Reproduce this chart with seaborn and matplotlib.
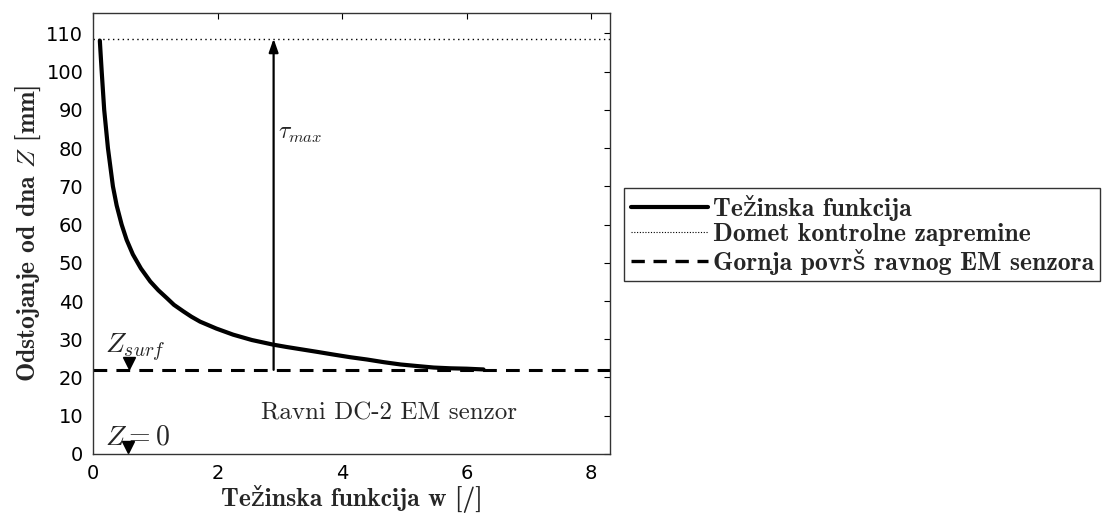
import matplotlib
matplotlib.use("Agg")
import matplotlib.pyplot as plt
import seaborn as sns
import pandas as pd
from matplotlib.lines import Line2D

# ---- data ----
w_values = [0.11, 0.125, 0.14, 0.16, 0.18, 0.21, 0.24, 0.28, 0.32, 0.38, 0.46,
            0.54, 0.64, 0.77, 0.92, 1.05, 1.19, 1.30, 1.45, 1.58, 1.72, 1.98,
            2.25, 2.55, 2.89, 3.10, 3.33, 3.60, 3.86, 4.13, 4.40, 4.67, 4.94,
            5.20, 5.47, 5.74, 6.00, 6.27]
z_values = [108.1, 104.0, 100.0, 95.0, 90.0, 85.0, 80.0, 75.0, 70.0, 65.0, 60.0,
            56.0, 52.2, 48.5, 45.1, 42.8, 40.7, 39.0, 37.3, 35.9, 34.6, 32.8,
            31.2, 29.8, 28.6, 28.0, 27.4, 26.7, 26.0, 25.3, 24.7, 24.0, 23.4,
            23.0, 22.6, 22.4, 22.3, 22.1]
z_range = 108.6        # Domet kontrolne zapremine
z_surface = 22.0       # Gornja površ ravnog EM senzora
tau_x = 2.9            # position of the tau_max arrow
xticks = [0, 2, 4, 6, 8]
yticks = list(range(0, 111, 10))
legend_labels = ["Težinska funkcija", "Domet kontrolne zapremine",
                 "Gornja površ ravnog EM senzora"]
marker_x = [0.58, 0.56]
marker_y = [23.8, 1.7]

df = pd.DataFrame({"w": w_values, "z": z_values})

sns.set_style("white")
plt.rcParams["font.family"] = ["DejaVu Sans"]
plt.rcParams["mathtext.fontset"] = "cm"

SERIF_B = ["cmb10", "DejaVu Serif"]
SERIF_R = ["cmr10", "DejaVu Serif"]

fig = plt.figure(figsize=(11.03, 5.23), dpi=100)
ax = fig.add_axes([0.0843, 0.132, 0.4687, 0.843])

sns.lineplot(data=df, x="w", y="z", ax=ax, color="black", linewidth=3.0,
             sort=False, estimator=None, solid_joinstyle="round")
ax.axhline(z_range, color="black", linestyle=(0, (1, 2.5)), linewidth=1.0)
ax.axhline(z_surface, color="black", linestyle=(0, (4.5, 3)), linewidth=2.2)

ax.annotate("", xy=(tau_x, z_range), xytext=(tau_x, z_surface),
            arrowprops=dict(arrowstyle="-|>,head_length=0.8,head_width=0.28",
                            color="black", lw=1.6, shrinkA=0, shrinkB=0))
ax.text(tau_x + 0.07, 84, r"$\tau_{max}$", fontsize=17, va="center", ha="left")

ax.plot(marker_x, marker_y, linestyle="none", marker="v", color="black",
        markersize=8.5, clip_on=False, zorder=5)
ax.text(0.19, 26.3, r"$Z_{surf}$", fontsize=20, ha="left", va="baseline")
ax.text(0.19, 2.6, r"$Z = 0$", fontsize=20, ha="left", va="baseline")
ax.text(4.75, 10.5, "Ravni DC-2 EM senzor", fontsize=18, ha="center",
        va="center", family=SERIF_R)

ax.set_xlim(0, 8.3)
ax.set_ylim(0, 115.3)
ax.set_xticks(xticks)
ax.set_yticks(yticks)
ax.tick_params(direction="in", top=True, right=True, length=4, width=0.8,
               labelsize=14, colors="black", pad=7)
for sp in ax.spines.values():
    sp.set_visible(True)
    sp.set_color("#333333")
    sp.set_linewidth(1.0)

lab_font = dict(family=SERIF_B, size=18.5)
ax.set_xlabel("Težinska funkcija w [/]", **lab_font, labelpad=2)
ax.set_ylabel(r"Odstojanje od dna $Z$ [mm]", **lab_font, labelpad=2)

handles = [
    Line2D([], [], color="black", linewidth=3.0),
    Line2D([], [], color="black", linestyle=(0, (1, 1.5)), linewidth=0.8),
    Line2D([], [], color="black", linestyle=(0, (4, 2.6)), linewidth=2.4),
]
leg = fig.legend(handles, legend_labels, loc="center left",
                 bbox_to_anchor=(0.566, 0.551), frameon=True, fancybox=False,
                 edgecolor="black", handlelength=3.0, handletextpad=0.2,
                 borderpad=0.25, labelspacing=0.1, borderaxespad=0,
                 prop=dict(family=SERIF_B, size=18.5))
leg.get_frame().set_linewidth(1.0)

fig.savefig("out.png", dpi=100, facecolor="white")
